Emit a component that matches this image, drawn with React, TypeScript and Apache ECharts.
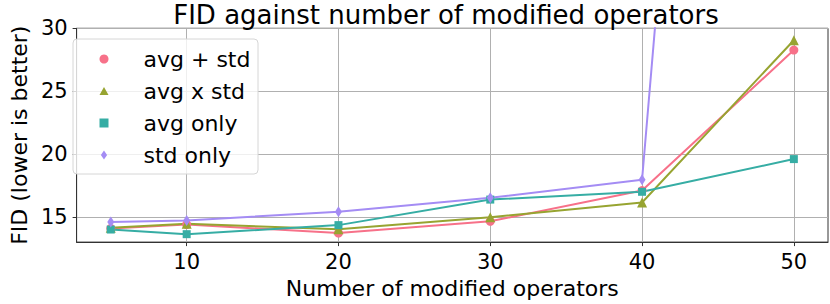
import React, { useEffect, useRef } from "react";
import * as echarts from "echarts";

const xValues = [5, 10, 20, 30, 40, 50];
const avgPlusStd = [14.08, 14.4, 13.72, 14.65, 17.1, 28.27];
const avgXStd = [14.15, 14.45, 14.02, 14.98, 16.15, 29.05];
const avgOnly = [14.0, 13.63, 14.35, 16.38, 17.0, 19.6];
const stdOnly = [14.6, 14.72, 15.42, 16.52, 17.96, 160];
const seriesNames = ["avg + std", "avg x std", "avg only", "std only"];
const colors = ["#f77189", "#97a431", "#36ada4", "#a48cf4"];
const xTicks = [10, 20, 30, 40, 50];
const yTicks = [15, 20, 25, 30];

const FONT = "DejaVu Sans";

export default function App() {
  const ref = useRef<HTMLDivElement>(null);
  useEffect(() => {
    document.body.style.margin = "0";
    const chart = echarts.init(ref.current!, null, { renderer: "svg" });
    const allData = [avgPlusStd, avgXStd, avgOnly, stdOnly];
    const symbols = ["circle", "triangle", "rect", "diamond"];
    const symbolSizes: any[] = [9, 10, 8, [7, 11]];
    const legendIcons = [
      "circle",
      "path://M0,-1L1.1,1L-1.1,1Z",
      "path://M0,0L1,0L1,1L0,1Z",
      "path://M0,-1.45L1,0L0,1.45L-1,0Z",
    ];
    chart.setOption({
      animation: false,
      title: {
        text: "FID against number of modified operators",
        left: 446,
        textAlign: "center",
        top: 2,
        padding: 0,
        textStyle: { fontFamily: FONT, fontSize: 26, fontWeight: "normal", color: "#000" },
      },
      grid: {
        left: 62.5,
        right: 2,
        top: 28.3,
        bottom: 56,
        show: true,
        borderColor: "#333",
        borderWidth: 1,
        backgroundColor: "transparent",
      },
      legend: {
        orient: "vertical",
        left: 99.5,
        top: 48,
        padding: 0,
        itemWidth: 9,
        itemHeight: 9,
        itemGap: 10,
        symbolKeepAspect: true,
        formatter: (name: string) => `{gap|}{t|${name}}`,
        textStyle: {
          fontFamily: FONT,
          fontSize: 22,
          color: "#000",
          lineHeight: 22,
          rich: {
            gap: { width: 30, height: 22 },
            t: { fontFamily: FONT, fontSize: 22, color: "#000", lineHeight: 22 },
          },
        },
        data: seriesNames.map((n, i) => ({ name: n, icon: legendIcons[i] })),
      },
      graphic: [
        {
          type: "rect",
          z: 3,
          shape: { x: 73, y: 39, width: 185, height: 135, r: 4 },
          style: { fill: "rgba(255,255,255,0.8)", stroke: "#d6d6d6", lineWidth: 1 },
        },
      ],
      xAxis: {
        type: "value",
        min: 2.75,
        max: 52.25,
        name: "Number of modified operators",
        nameLocation: "middle",
        nameGap: 31,
        nameTextStyle: { fontFamily: FONT, fontSize: 22, color: "#000" },
        axisLine: { show: true, lineStyle: { color: "#333", width: 1 } },
        axisTick: { show: true, length: 4, customValues: xTicks, lineStyle: { color: "#333" } },
        axisLabel: {
          customValues: xTicks,
          margin: 9,
          fontFamily: FONT,
          fontSize: 21,
          color: "#000",
        },
        splitLine: { show: true, lineStyle: { color: "#b0b0b0", width: 1 } },
      },
      yAxis: {
        type: "value",
        min: 13,
        max: 30,
        name: "FID (lower is better)",
        nameLocation: "middle",
        nameGap: 45,
        nameTextStyle: { fontFamily: FONT, fontSize: 22, color: "#000" },
        axisLine: { show: true, lineStyle: { color: "#333", width: 1 } },
        axisTick: { show: true, length: 4, customValues: yTicks, lineStyle: { color: "#333" } },
        axisLabel: {
          customValues: yTicks,
          margin: 9,
          fontFamily: FONT,
          fontSize: 21,
          color: "#000",
        },
        splitLine: { show: true, lineStyle: { color: "#b0b0b0", width: 1 } },
      },
      series: allData.map((d, i) => ({
        name: seriesNames[i],
        type: "line",
        clip: true,
        data: xValues.map((x, j) => [x, d[j]]),
        symbol: symbols[i],
        symbolSize: symbolSizes[i],
        showAllSymbol: true,
        color: colors[i],
        lineStyle: { color: colors[i], width: 2 },
        itemStyle: { color: colors[i], borderWidth: 0 },
        emphasis: { disabled: true },
      })),
    });
    return () => chart.dispose();
  }, []);
  return (
    <div
      ref={ref}
      style={{ position: "absolute", left: 0, top: 0, width: 830, height: 304 }}
    />
  );
}
